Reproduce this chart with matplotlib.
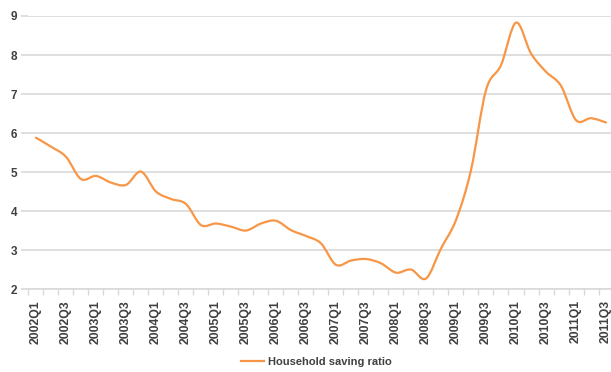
import matplotlib
matplotlib.use("Agg")
import matplotlib.pyplot as plt
import numpy as np
from matplotlib.path import Path
from matplotlib.patches import PathPatch
from matplotlib.lines import Line2D

# quarterly household saving ratio, 2002Q1 .. 2011Q3
quarters = [f"{y}Q{q}" for y in range(2002, 2012) for q in range(1, 5)][:39]
saving_ratio = [
    5.88, 5.65, 5.39, 4.82, 4.90, 4.73, 4.67, 5.01, 4.50, 4.31,
    4.18, 3.64, 3.68, 3.60, 3.50, 3.68, 3.75, 3.51, 3.36, 3.17,
    2.62, 2.73, 2.77, 2.66, 2.42, 2.50, 2.27, 3.04, 3.77, 5.05,
    7.10, 7.74, 8.83, 8.04, 7.57, 7.21, 6.33, 6.38, 6.27,
]
tick_labels = quarters[::2]

ORANGE = "#F79646"
GRID = "#d9d9d9"
TEXT = "#404040"

plt.rcParams["font.family"] = ["Liberation Sans", "DejaVu Sans"]


def smooth_path(x, y, t=1 / 6):
    """Catmull-Rom style cubic Bezier path through the data points."""
    x = np.asarray(x, float)
    y = np.asarray(y, float)
    n = len(x)
    verts = [(x[0], y[0])]
    codes = [Path.MOVETO]
    for i in range(n - 1):
        p0 = (x[max(i - 1, 0)], y[max(i - 1, 0)])
        p1 = (x[i], y[i])
        p2 = (x[i + 1], y[i + 1])
        p3 = (x[min(i + 2, n - 1)], y[min(i + 2, n - 1)])
        c1 = (p1[0] + (p2[0] - p0[0]) * t, p1[1] + (p2[1] - p0[1]) * t)
        c2 = (p2[0] - (p3[0] - p1[0]) * t, p2[1] - (p3[1] - p1[1]) * t)
        verts += [c1, c2, p2]
        codes += [Path.CURVE4] * 3
    return Path(verts, codes)


fig = plt.figure(figsize=(6.11, 3.72), dpi=100)
ax = fig.add_axes([0.0466, 0.223, 0.9575, 0.734])

xs = np.arange(len(saving_ratio))
ax.add_patch(PathPatch(smooth_path(xs, saving_ratio), facecolor="none",
                       edgecolor=ORANGE, linewidth=1.6, capstyle="round",
                       joinstyle="round", zorder=3))

ax.set_xlim(-0.5, len(saving_ratio) - 0.5)
ax.set_ylim(2, 9)
ax.set_yticks(range(2, 10))
ax.yaxis.grid(True, color=GRID, linewidth=1.2)
ax.set_axisbelow(True)

ax.set_xticks(xs[::2])
ax.set_xticklabels(tick_labels, rotation=90, fontsize=8.8, color=TEXT,
                   fontweight="bold")
ax.set_xticks(np.arange(-0.5, len(saving_ratio), 1), minor=True)
ax.tick_params(axis="x", which="major", length=0, pad=8)
ax.tick_params(axis="x", which="minor", length=4, color=GRID, width=1)
ax.tick_params(axis="y", length=5, color=GRID, width=1.2, labelsize=8.5,
               labelcolor=TEXT, pad=3)
for lab in ax.get_yticklabels():
    lab.set_fontweight("bold")

for side in ("top", "right", "left"):
    ax.spines[side].set_visible(False)
ax.spines["bottom"].set_color(GRID)
ax.spines["bottom"].set_linewidth(1.2)

handle = Line2D([], [], color=ORANGE, linewidth=1.6)
fig.legend([handle], ["Household saving ratio"], loc="center",
           bbox_to_anchor=(0.518, 0.026), frameon=False,
           prop={"size": 8, "weight": "bold"}, handlelength=2.0,
           handletextpad=0.4, labelcolor=TEXT, borderpad=0)

fig.savefig("out.png", dpi=100)
